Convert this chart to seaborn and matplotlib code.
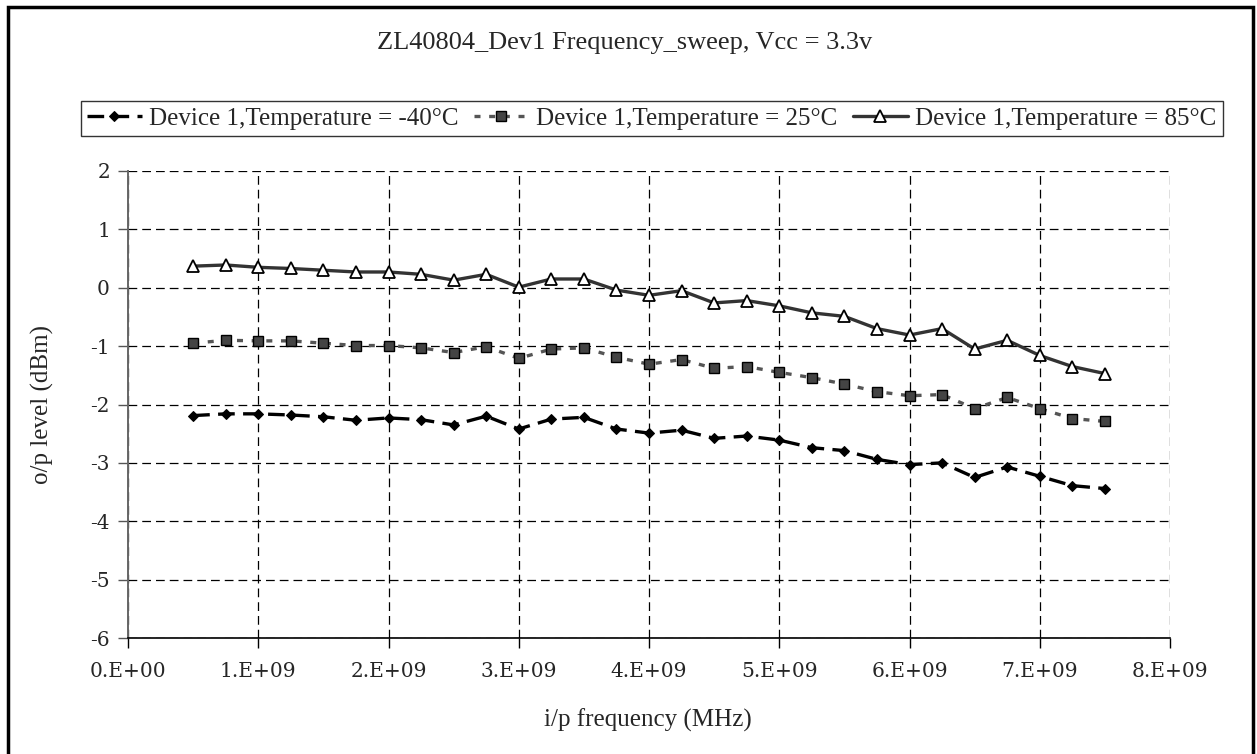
import seaborn as sns
import matplotlib.pyplot as plt
import matplotlib.patches as mpatches
import numpy as np
import pandas as pd

# frequency sweep points (Hz)
freq = [0.5e9, 0.75e9, 1.0e9, 1.25e9, 1.5e9, 1.75e9, 2.0e9, 2.25e9, 2.5e9, 2.75e9,
        3.0e9, 3.25e9, 3.5e9, 3.75e9, 4.0e9, 4.25e9, 4.5e9, 4.75e9, 5.0e9, 5.25e9,
        5.5e9, 5.75e9, 6.0e9, 6.25e9, 6.5e9, 6.75e9, 7.0e9, 7.25e9, 7.5e9]

t_m40 = [-2.19, -2.16, -2.16, -2.18, -2.21, -2.27, -2.23, -2.26, -2.35, -2.20,
         -2.42, -2.25, -2.22, -2.42, -2.49, -2.44, -2.58, -2.54, -2.61, -2.74,
         -2.79, -2.94, -3.03, -3.00, -3.25, -3.07, -3.23, -3.39, -3.44]
t_25 = [-0.95, -0.90, -0.91, -0.91, -0.95, -0.99, -0.99, -1.03, -1.11, -1.01,
        -1.21, -1.05, -1.03, -1.19, -1.31, -1.23, -1.38, -1.35, -1.45, -1.54,
        -1.65, -1.78, -1.85, -1.83, -2.07, -1.88, -2.07, -2.24, -2.29]
t_85 = [0.37, 0.39, 0.35, 0.33, 0.30, 0.27, 0.27, 0.23, 0.13, 0.23,
        0.01, 0.15, 0.15, -0.04, -0.13, -0.05, -0.26, -0.22, -0.31, -0.43,
        -0.49, -0.70, -0.81, -0.70, -1.05, -0.90, -1.16, -1.35, -1.47]

labels = ['Device 1,Temperature = -40°C', 'Device 1,Temperature = 25°C',
          'Device 1,Temperature = 85°C']
xtick_vals = [0, 1e9, 2e9, 3e9, 4e9, 5e9, 6e9, 7e9, 8e9]
xtick_labels = ['0.E+00', '1.E+09', '2.E+09', '3.E+09', '4.E+09',
                '5.E+09', '6.E+09', '7.E+09', '8.E+09']
yticks = [-6, -5, -4, -3, -2, -1, 0, 1, 2]

sns.set_style('white')
plt.rcParams['font.family'] = ['Liberation Serif', 'DejaVu Serif']

fig = plt.figure(figsize=(12.57, 7.54), dpi=100)
ax = fig.add_axes([128 / 1257, 1 - 638 / 754, 1042 / 1257, 467 / 754])

sns.lineplot(x=freq, y=t_m40, ax=ax, label=labels[0], color='black',
             linestyle=(0, (5, 2.5)), linewidth=2.4, marker='D', markersize=5.5,
             markerfacecolor='black', markeredgecolor='black')
sns.lineplot(x=freq, y=t_25, ax=ax, label=labels[1], color='#555555',
             linestyle=(0, (1.8, 2.6)), linewidth=2.4, marker='s', markersize=7.5,
             markerfacecolor='#444444', markeredgecolor='black', markeredgewidth=1)
sns.lineplot(x=freq, y=t_85, ax=ax, label=labels[2], color='#333333',
             linestyle='-', linewidth=2.4, marker='^', markersize=8,
             markerfacecolor='white', markeredgecolor='black', markeredgewidth=1.3)

ax.set_xlim(0, 8e9)
ax.set_ylim(-6, 2)
ax.set_xticks(xtick_vals, xtick_labels)
ax.set_yticks(yticks, [str(v) for v in yticks])
for t in ax.get_xticklabels() + ax.get_yticklabels():
    t.set_fontfamily('DejaVu Serif')
    t.set_fontsize(14.5)
ax.tick_params(axis='both', direction='out', length=7, width=1, color='black',
               bottom=True, left=True)
ax.tick_params(axis='y', pad=6, color='#555555')
ax.tick_params(axis='x', pad=10)

ax.grid(True, linestyle=(0, (7, 4)), color='black', linewidth=0.9)
for s in ['top', 'right']:
    ax.spines[s].set_visible(False)
ax.spines['left'].set_color('#666666')
ax.spines['bottom'].set_color('black')
ax.spines['left'].set_linewidth(1.4)
ax.spines['bottom'].set_linewidth(1.2)

ax.set_xlabel('i/p frequency (MHz)', fontsize=18)
ax.set_ylabel('o/p level (dBm)', fontsize=18)
ax.xaxis.set_label_coords(0.499, -(720 - 638) / 467)
ax.xaxis.label.set_va('center')
ax.yaxis.set_label_coords((42 - 128) / 1042, 0.5)
ax.yaxis.label.set_va('center')

fig.text(625 / 1257, 1 - 43 / 754, 'ZL40804_Dev1 Frequency_sweep, Vcc = 3.3v',
         ha='center', va='center', fontsize=19)

ax.get_legend().remove()
h, l = ax.get_legend_handles_labels()
leg = fig.legend(h, l, loc='center', bbox_to_anchor=(651.5 / 1257, 1 - 118.5 / 754),
                 ncol=3, fontsize=18, frameon=True, fancybox=False, shadow=False,
                 handlelength=2.2, handletextpad=0.3, columnspacing=0.6,
                 borderpad=0.25, borderaxespad=0)
leg.get_frame().set_edgecolor('black')
leg.get_frame().set_linewidth(1)

# outer chart border
fig.patches.append(mpatches.Rectangle((8 / 1257, -0.02), 1245 / 1257, 1.02 - 7 / 754,
                                      transform=fig.transFigure, fill=False,
                                      edgecolor='black', linewidth=2.5))

fig.savefig('out.png', dpi=100, facecolor='white')
